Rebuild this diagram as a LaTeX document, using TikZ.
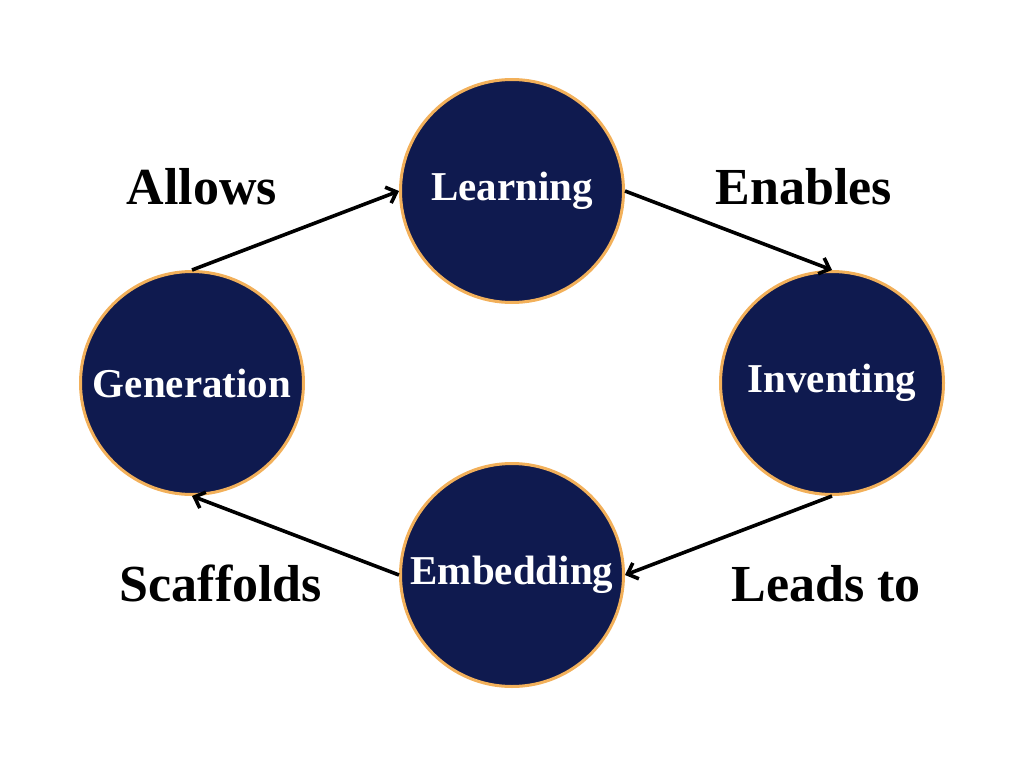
\documentclass[tikz,border=0pt]{standalone}
\usepackage{fontspec}
\setmainfont{Liberation Serif}
\usetikzlibrary{arrows.meta}
\definecolor{navy}{HTML}{0F1A4F}
\definecolor{gold}{HTML}{F2B05A}
\begin{document}
\begin{tikzpicture}[x=1pt,y=-1pt,
  stage/.style={circle, fill=navy, draw=gold, line width=3pt, minimum size=223pt, inner sep=0pt,
    text=white, font=\fontsize{41}{45}\selectfont\bfseries},
  lbl/.style={font=\fontsize{52}{58}\selectfont\bfseries, text=black, anchor=base},
  link/.style={line width=3.6pt, -{Straight Barb[length=9pt,width=17pt,line width=3.6pt]}}]
\useasboundingbox (0,0) rectangle (1024,768);
\node[stage] (learn) at (512,191) {Learning};
\node[stage] (invent) at (832,383) {Inventing};
\node[stage] (embed) at (512,575) {Embedding};
\node[stage] (gen) at (192,383) {Generation};
\draw[link] (gen.north) -- (learn.west);
\draw[link] (learn.east) -- (invent.north);
\draw[link] (invent.south) -- (embed.east);
\draw[link] (embed.west) -- (gen.south);
\node[lbl] (l1) at (202,204) {Allows};
\node[lbl] (l2) at (804,204) {Enables};
\node[lbl] (l3) at (221,601) {Scaffolds};
\node[lbl] (l4) at (826,601) {Leads to};
\end{tikzpicture}
\end{document}
